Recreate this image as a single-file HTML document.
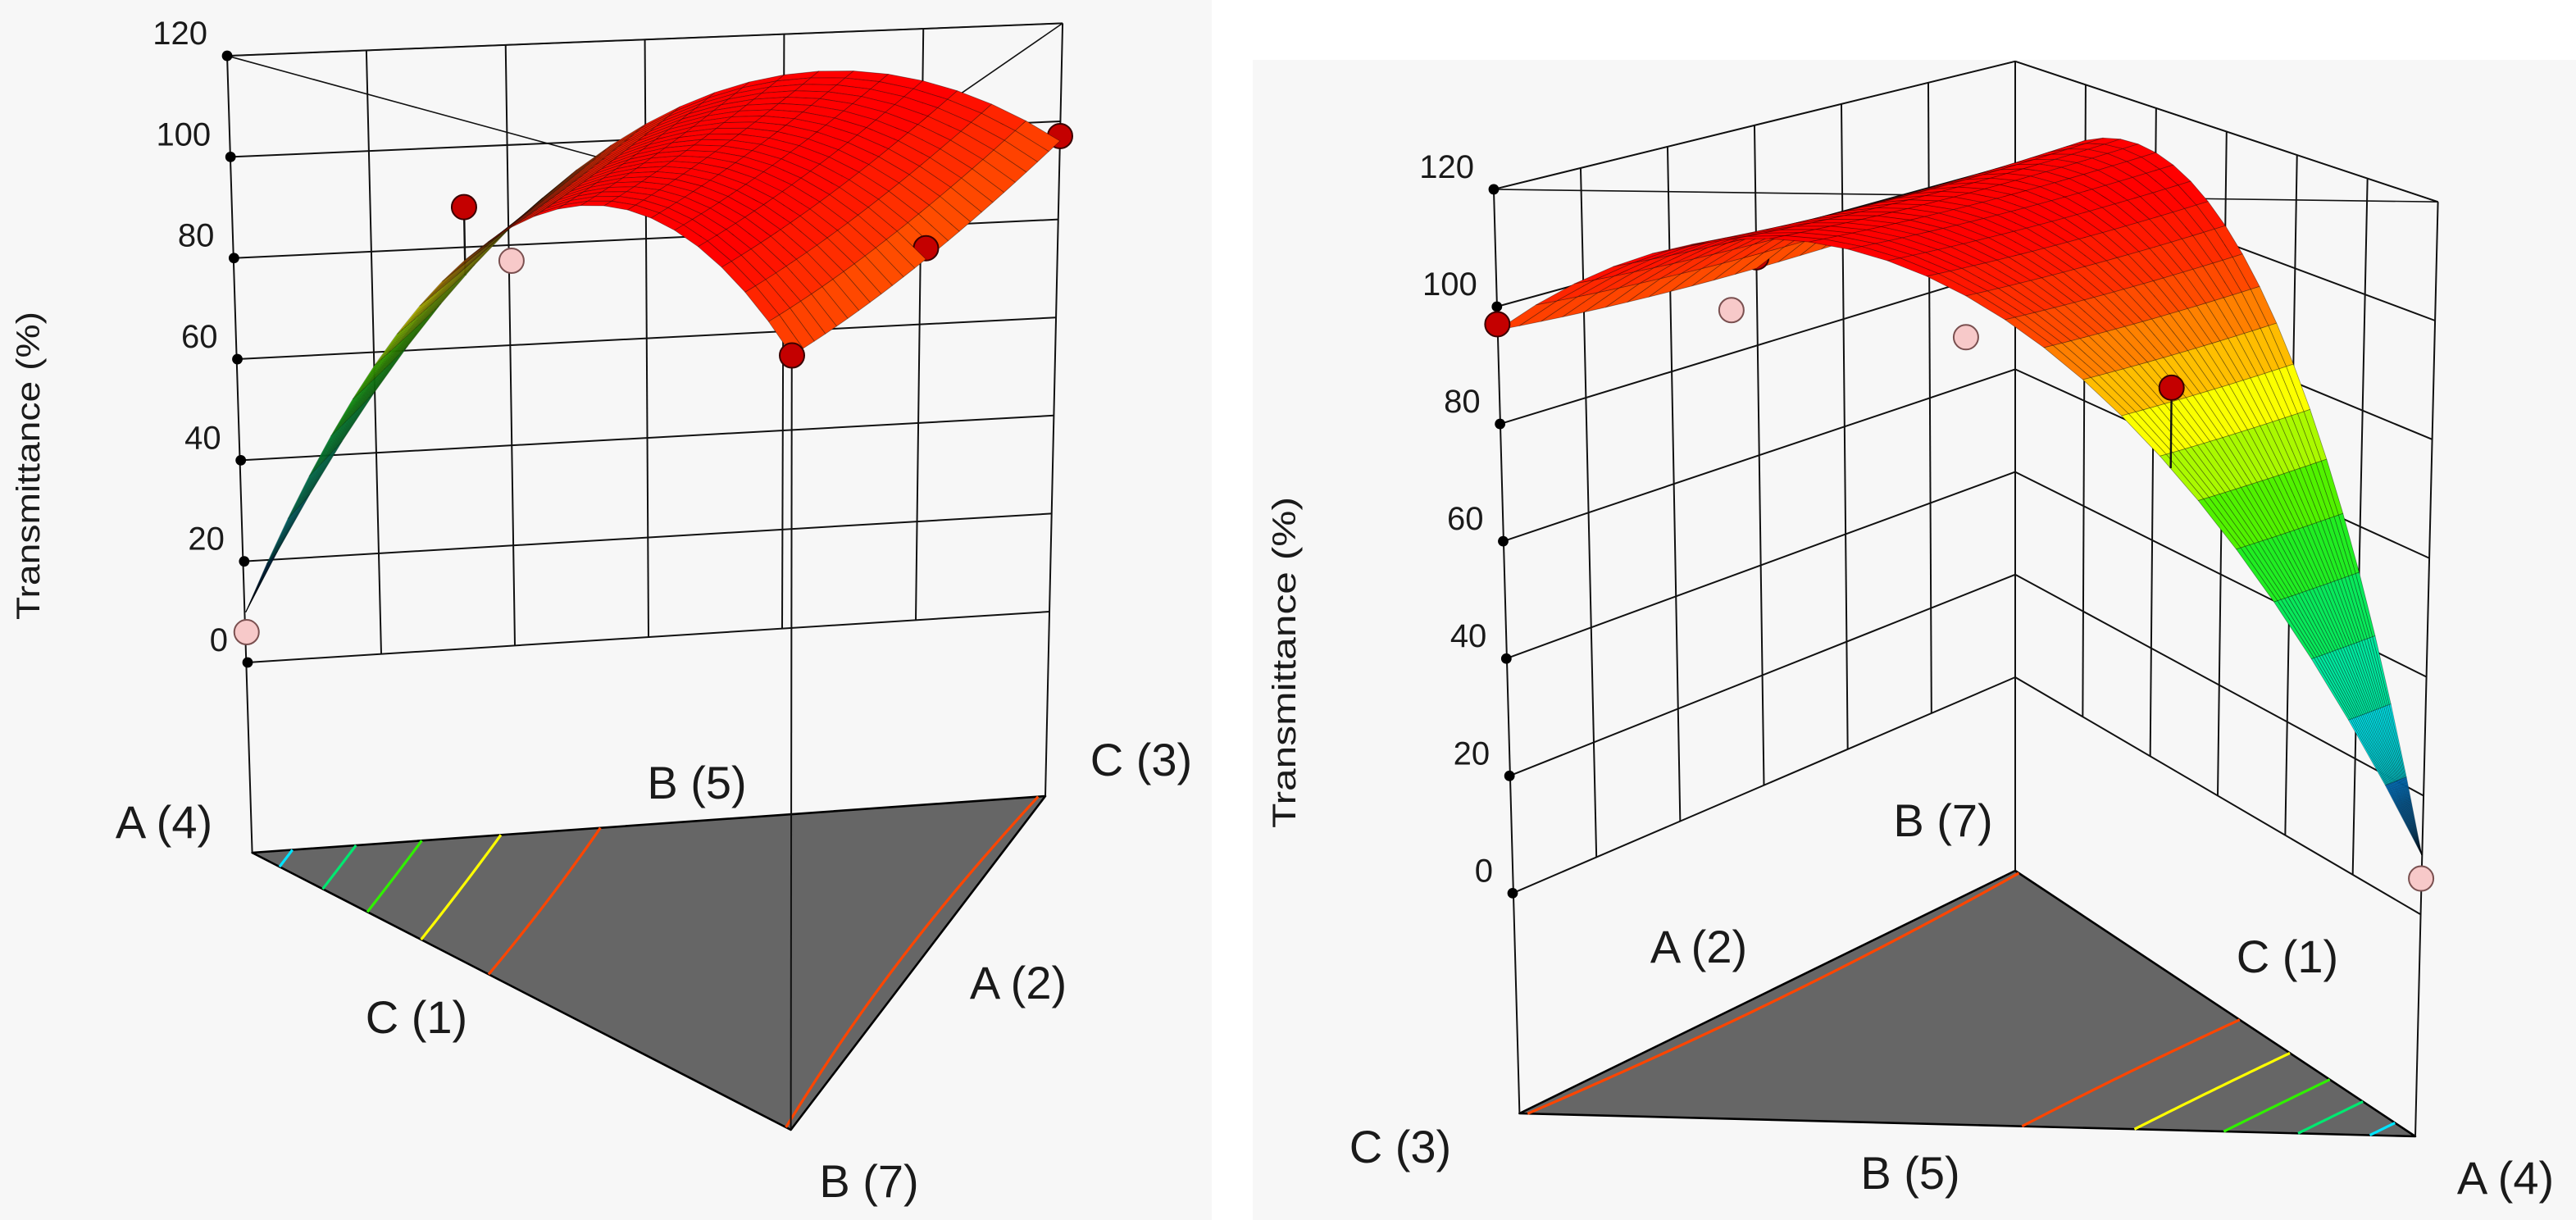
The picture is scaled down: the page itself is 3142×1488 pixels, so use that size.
<!DOCTYPE html>
<html><head><meta charset="utf-8"><title>Mixture response surfaces – Transmittance</title>
<style>
html,body{margin:0;padding:0;background:#fff;}
svg{display:block;}
text{font-family:"Liberation Sans",Arial,sans-serif;fill:#1a1a1a;}
</style></head>
<body>
<svg id="chart" xmlns="http://www.w3.org/2000/svg" width="3142" height="1488" viewBox="0 0 1571 744">
  <rect x="0" y="0" width="739" height="744" fill="#f7f7f7"/>
  <rect x="764" y="36.5" width="807" height="708" fill="#f7f7f7"/>
  <g id="left"></g>
  <g id="right"></g>
</svg>
<script>
// ---- data ----
const zTicks = [0, 20, 40, 60, 80, 100, 120];
const linCoef = [10, 96, 96];        // A, B, C pure-component responses
const interCoef = [200, 200, -8];    // AB, AC, BC blending terms
const ptA = [1, 0, 0, 0.5, 0, 0.25, 0.5, 0.72];
const ptB = [0, 1, 0, 0.5, 0.5, 0, 0, 0];
const ptC = [0, 0, 1, 0, 0.5, 0.75, 0.5, 0.28];
const ptVal = [6, 96, 97, 97, 96, 100, 96, 88];
const contourLevels = [24, 44, 62, 80, 97];
const leftLabels = ["A (4)", "B (5)", "C (3)", "C (1)", "A (2)", "B (7)"];
const rightLabels = ["B (7)", "A (2)", "C (1)", "C (3)", "B (5)", "A (4)"];
const axisTitle = "Transmittance  (%)";

const NS = "http://www.w3.org/2000/svg";
function mk(parent, tag, attrs) {
  const e = document.createElementNS(NS, tag);
  for (const k in attrs) e.setAttribute(k, attrs[k]);
  parent.appendChild(e);
  return e;
}
function model(w) {
  return linCoef[0]*w[0] + linCoef[1]*w[1] + linCoef[2]*w[2] +
         interCoef[0]*w[0]*w[1] + interCoef[1]*w[0]*w[2] + interCoef[2]*w[1]*w[2];
}
const stops = [[0,[0,0,255]],[24,[0,229,255]],[44,[0,232,112]],[62,[48,240,0]],[80,[255,255,0]],[97,[255,69,0]],[108,[255,0,0]],[200,[255,0,0]]];
function cmap(z) {
  if (z <= stops[0][0]) return "rgb(0,0,255)";
  for (let i = 1; i < stops.length; i++) {
    if (z <= stops[i][0]) {
      const t = (z - stops[i-1][0]) / (stops[i][0] - stops[i-1][0]);
      const c = stops[i-1][1].map((v, k) => Math.round(v + (stops[i][1][k] - v) * t));
      return "rgb(" + c.join(",") + ")";
    }
  }
  return "rgb(255,0,0)";
}

const LEFT = {
  g: document.getElementById("left"),
  V: [ {z0:[151,404], up:[-0.104,-3.083], fl:[153.8,520]},
       {z0:[483,571], up:[0,-3.69], fl:[482.3,689]},
       {z0:[640,373], up:[0.067,-2.99], fl:[637.5,485.5]} ],
  axis: 0, walls: [[0,2]],
  labels: leftLabels,
  labelPos: [[100,501],[425,477],[696,463],[254,620],[621,599],[530,720]],
  title: [17, 284, 188]
};
const RIGHT = {
  g: document.getElementById("right"),
  V: [ {z0:[1476,557.5], up:[0.09,-3.62], fl:[1473,693]},
       {z0:[1229,413], up:[0,-3.13], fl:[1229,531]},
       {z0:[922.5,544.7], up:[-0.096,-3.577], fl:[926.7,679]} ],
  axis: 2, walls: [[2,1],[1,0]],
  labels: rightLabels,
  labelPos: [[1185,500],[1036,577],[1395,583],[854,699],[1165,715],[1528,718]],
  title: [783, 404, 202]
};

function proj(P, w, z) {
  let x = 0, y = 0;
  for (let i = 0; i < 3; i++) {
    x += w[i] * (P.V[i].z0[0] + z * P.V[i].up[0]);
    y += w[i] * (P.V[i].z0[1] + z * P.V[i].up[1]);
  }
  return [x, y];
}
function flr(P, w) {
  let x = 0, y = 0;
  for (let i = 0; i < 3; i++) { x += w[i]*P.V[i].fl[0]; y += w[i]*P.V[i].fl[1]; }
  return [x, y];
}
function depth(P, w) {
  let d = 0;
  for (let i = 0; i < 3; i++) d += w[i] * P.V[i].z0[1];
  return d;
}
function unit(i) { const w = [0,0,0]; w[i] = 1; return w; }
function mix(i, j, t) { const w = [0,0,0]; w[i] = 1 - t; w[j] += t; return w; }
const zMax = zTicks[zTicks.length - 1];

function drawPanel(P) {
  const g = P.g;
  const f = [0,1,2].map(i => P.V[i].fl);
  const floor = mk(g, "polygon", {points: f.map(p => p.join(",")).join(" "), fill: "#666666", stroke: "#000", "stroke-width": 1.3, "stroke-linejoin": "round"});
  
  
  const N = 60;
  const paths = contourLevels.map(() => "");
  const val = (i, j) => model([i/N, j/N, 1 - (i+j)/N]);
  function seg(tri, li, L) {
    const pts = [];
    for (let e = 0; e < 3; e++) {
      const p = tri[e], q = tri[(e+1)%3];
      const a = p[2] - L, b = q[2] - L;
      if ((a < 0) !== (b < 0)) {
        const t = a / (a - b);
        const w0 = p[0] + (q[0]-p[0])*t, w1 = p[1] + (q[1]-p[1])*t;
        pts.push(flr(P, [w0, w1, 1 - w0 - w1]));
      }
    }
    if (pts.length === 2) paths[li] += "M" + pts[0][0].toFixed(2) + "," + pts[0][1].toFixed(2) + "L" + pts[1][0].toFixed(2) + "," + pts[1][1].toFixed(2);
  }
  for (let i = 0; i < N; i++) for (let j = 0; i + j < N; j++) {
    const t1 = [[i/N, j/N, val(i,j)], [(i+1)/N, j/N, val(i+1,j)], [i/N, (j+1)/N, val(i,j+1)]];
    contourLevels.forEach((L, li) => seg(t1, li, L));
    if (i + j + 1 < N) {
      const t2 = [[(i+1)/N, j/N, val(i+1,j)], [(i+1)/N, (j+1)/N, val(i+1,j+1)], [i/N, (j+1)/N, val(i,j+1)]];
      contourLevels.forEach((L, li) => seg(t2, li, L));
    }
  }
  contourLevels.forEach((L, li) => {
    const c = mk(g, "path", {d: paths[li], stroke: cmap(L), "stroke-width": 1.6, fill: "none"});
    
    
  });
  P.walls.forEach(([p, q]) => {
    zTicks.forEach(z => {
      const a = proj(P, unit(p), z), b = proj(P, unit(q), z);
      const l = mk(g, "line", {x1: a[0], y1: a[1], x2: b[0], y2: b[1], stroke: "#111", "stroke-width": 1});
      
      
    });
    for (let k = 1; k < 6; k++) {
      const w = mix(p, q, k/6);
      const a = proj(P, w, 0), b = proj(P, w, zMax);
      const l = mk(g, "line", {x1: a[0], y1: a[1], x2: b[0], y2: b[1], stroke: "#111", "stroke-width": 1});
      
      
    }
  });
  for (let i = 0; i < 3; i++) {
    const a = P.V[i].fl, b = proj(P, unit(i), zMax);
    const l = mk(g, "line", {x1: a[0], y1: a[1], x2: b[0], y2: b[1], stroke: "#111", "stroke-width": 1});
    
    
  }
  [[0,1],[1,2],[0,2]].forEach(([p, q]) => {
    const a = proj(P, unit(p), zMax), b = proj(P, unit(q), zMax);
    const l = mk(g, "line", {x1: a[0], y1: a[1], x2: b[0], y2: b[1], stroke: "#111", "stroke-width": 0.8});
    
    
  });
  zTicks.forEach(z => {
    const p = proj(P, unit(P.axis), z);
    const d = mk(g, "circle", {cx: p[0], cy: p[1], r: 3.2, fill: "#000"});
    
    
    const t = mk(g, "text", {x: p[0] - 12, y: p[1] - 7, "font-size": 20, "text-anchor": "end"});
    t.textContent = String(z);
    
    
  });
  const items = [];
  const M = 24;
  const bw = (u, v) => [u, (1-u)*v, (1-u)*(1-v)];
  for (let i = 0; i < M; i++) for (let j = 0; j < M; j++) {
    const ws = [bw(i/M, j/M), bw((i+1)/M, j/M), bw((i+1)/M, (j+1)/M), bw(i/M, (j+1)/M)];
    const zs = ws.map(model);
    const pts = ws.map((w, k) => proj(P, w, zs[k]));
    const dep = ws.reduce((s, w) => s + depth(P, w), 0) / 4;
    const zc = zs.reduce((s, z) => s + z, 0) / 4;
    items.push({d: dep, kind: "cell", pts: pts, z: zc});
  }
  for (let k = 0; k < ptVal.length; k++) {
    const w = [ptA[k], ptB[k], ptC[k]];
    const pred = model(w);
    const above = ptVal[k] >= pred;
    items.push({d: depth(P, w) + (above ? 0.6 : -0.6), kind: "pt", w: w, v: ptVal[k], pred: pred, above: above});
  }
  items.sort((a, b) => a.d - b.d);
  items.forEach(it => {
    if (it.kind === "cell") {
      const c = mk(g, "polygon", {points: it.pts.map(p => p[0].toFixed(2) + "," + p[1].toFixed(2)).join(" "),
        fill: cmap(it.z), stroke: "#000", "stroke-opacity": 0.4, "stroke-width": 0.4, "stroke-linejoin": "round"});
      
      
    } else {
      const p = proj(P, it.w, it.v), s = proj(P, it.w, it.pred);
      if (it.above) {
        const st = mk(g, "line", {x1: p[0], y1: p[1], x2: s[0], y2: s[1], stroke: "#111", "stroke-width": 1.2});
        
        
      }
      const c = mk(g, "circle", {cx: p[0], cy: p[1], r: 7.5, fill: it.above ? "#c40000" : "#f7c9c9", stroke: it.above ? "#3a0000" : "#7a5050", "stroke-width": 1});
      
      
    }
  });
  P.labels.forEach((s, i) => {
    const t = mk(g, "text", {x: P.labelPos[i][0], y: P.labelPos[i][1] + 10, "font-size": 28, "text-anchor": "middle"});
    t.textContent = s;
    
    
  });
  const [tx, ty, tl] = P.title;
  const tt = mk(g, "text", {x: 0, y: 0, "font-size": 20, "text-anchor": "middle", textLength: tl, lengthAdjust: "spacingAndGlyphs",
    transform: "translate(" + (tx + 7) + "," + ty + ") rotate(-90)"});
  tt.textContent = axisTitle;
  
  
}
drawPanel(LEFT);
drawPanel(RIGHT);
</script>
</body></html>
